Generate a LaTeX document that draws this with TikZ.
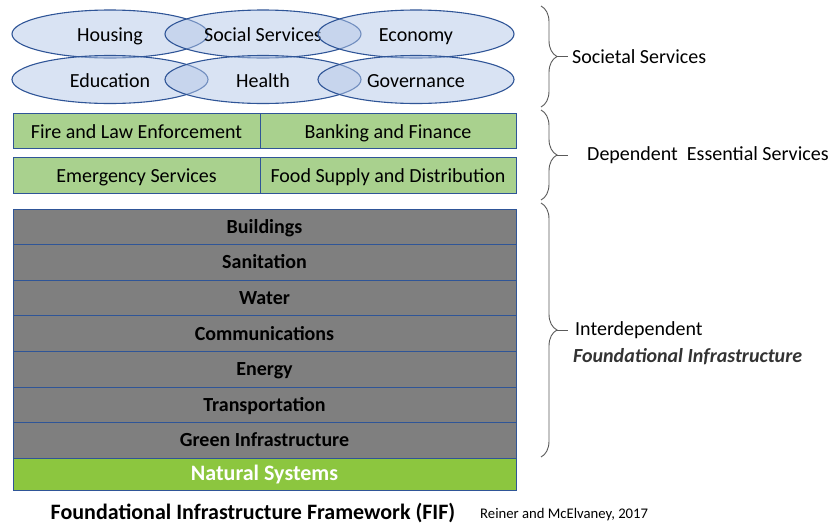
\documentclass[tikz,border=0pt]{standalone}
\usepackage{fontspec}
\setmainfont{Carlito}
\usetikzlibrary{positioning,shapes.geometric,decorations.pathreplacing}
\definecolor{ovalfill}{RGB}{180,199,231}
\definecolor{ovaldraw}{RGB}{47,85,151}
\definecolor{essgreen}{RGB}{169,209,142}
\definecolor{natgreen}{RGB}{140,198,63}
\definecolor{layergray}{RGB}{127,127,127}
\definecolor{bracegray}{RGB}{90,90,90}
\tikzset{
  oval/.style={ellipse,draw=ovaldraw,line width=1.1pt,fill=ovalfill,fill opacity=0.5,
    text opacity=1,minimum width=196pt,minimum height=48pt,inner sep=0pt,outer sep=0pt,
    text height=16pt,text depth=1pt},
  essbox/.style args={#1,#2}{
  rectangle,
  draw=ovaldraw,
  line width=0.9pt,
  fill=essgreen,
  inner sep=0pt,
  outer sep=0pt,
  text height=16pt,
  text depth=1pt,
  minimum width=#1pt,
  minimum height=#2pt,
  },
  layer/.style={rectangle,draw=ovaldraw,line width=0.8pt,fill=layergray,inner sep=0pt,
    outer sep=0pt,minimum width=503pt,minimum height=35.6pt,text height=15pt,text depth=2pt,
    font=\fontsize{20}{23}\selectfont\bfseries},
  natlayer/.style={layer,fill=natgreen,text=white,minimum height=32pt,
    font=\fontsize{22}{25}\selectfont\bfseries},
  sidebrace/.style={decorate,decoration={brace,amplitude=16pt},draw=bracegray,line width=0.9pt},
  stub/.style={draw=bracegray,line width=0.9pt},
  sidelabel/.style={anchor=west,inner sep=0pt}
}

\begin{document}
\begin{tikzpicture}[x=1pt,y=1pt,font=\fontsize{20}{23}\selectfont]
  \useasboundingbox (0,0) rectangle (840,-523);

  % societal services
  \node [oval] (housing) at (110,-34) {Housing};
  \node [oval] (social) [right=-43pt of housing] {Social Services};
  \node [oval] (economy) [right=-43pt of social] {Economy};
  \node [oval] (education) [below=-2.5pt of housing] {Education};
  \node [oval] (health) [below=-2.5pt of social] {Health};
  \node [oval] (governance) [below=-2.5pt of economy] {Governance};

  % dependent essential services
  \node [essbox={247,35}] (fire) at (136.5,-130.5) {Fire and Law Enforcement};
  \node [essbox={256,35}] (banking) [right=0pt of fire] {Banking and Finance};
  \node [essbox={247,36}] (emergency) [below=9pt of fire] {Emergency Services};
  \node [essbox={256,36}] (food) [right=0pt of emergency] {Food Supply and Distribution};

  % foundational infrastructure
  \node [layer] (buildings) at (264.5,-226.8) {Buildings};
  \node [layer] (sanitation) [below=0pt of buildings] {Sanitation};
  \node [layer] (water) [below=0pt of sanitation] {Water};
  \node [layer] (comms) [below=0pt of water] {Communications};
  \node [layer] (energy) [below=0pt of comms] {Energy};
  \node [layer] (transport) [below=0pt of energy] {Transportation};
  \node [layer] (greeninf) [below=0pt of transport] {Green Infrastructure};
  \node [natlayer] (natural) [below=0pt of greeninf] {Natural Systems};

  \node [anchor=base,font=\fontsize{22}{26}\selectfont\bfseries] (title) at (253,-519) {Foundational Infrastructure Framework (FIF)};
  \node [anchor=base west,inner sep=0pt,font=\fontsize{14.7}{17}\selectfont] (cite) at (480,-518) {Reiner and McElvaney, 2017};

  % braces on the right
  \draw [sidebrace] (541,-6) -- (541,-107);
  \draw [sidebrace] (541,-110) -- (541,-200);
  \draw [sidebrace] (541,-203) -- (541,-457);
  \coordinate (tip1) at (557,-56.5);
  \coordinate (tip2) at (557,-155);
  \coordinate (tip3) at (557,-330);
  \coordinate (end1) at (568,-56.5);
  \coordinate (end2) at (568,-155);
  \coordinate (end3) at (568,-330);
  \draw [stub] (tip1) -- (end1);
  \draw [stub] (tip2) -- (end2);
  \draw [stub] (tip3) -- (end3);

  \node [sidelabel] (societal) at (572,-57) {Societal Services};
  \node [sidelabel] (dependent) at (587,-155) {Dependent\ \ Essential Services};
  \node [sidelabel] (interdep) at (575,-330) {Interdependent};
  \node [sidelabel,text=black!80,font=\fontsize{20}{23}\selectfont\bfseries\itshape] (foundational) at (573,-357) {Foundational Infrastructure};
\end{tikzpicture}
\end{document}
